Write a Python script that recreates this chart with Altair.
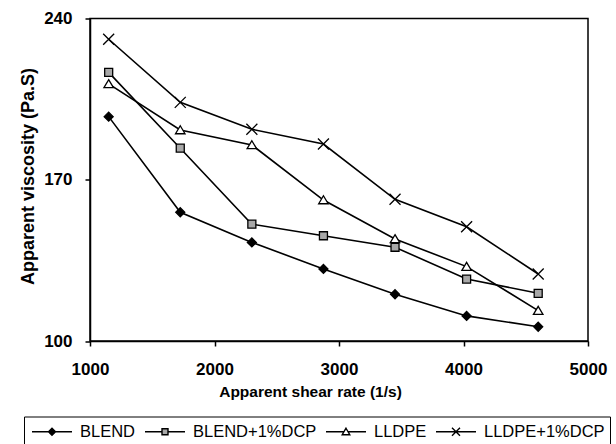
import altair as alt
import pandas as pd

# Apparent shear rate (1/s) at which viscosity was measured
shear_rate = [1150, 1725, 2300, 2875, 3450, 4025, 4600]

# Apparent viscosity (Pa.S) for each material
blend = [197.4, 155.9, 142.8, 131.3, 120.3, 110.9, 106.2]
blend_dcp = [216.6, 183.7, 150.7, 145.7, 140.7, 126.9, 120.7]
lldpe = [211.6, 191.6, 185.1, 161.2, 144.3, 132.3, 113.2]
lldpe_dcp = [231.0, 203.6, 191.9, 185.5, 161.5, 149.6, 129.1]

series_names = ["BLEND", "BLEND+1%DCP", "LLDPE", "LLDPE+1%DCP"]
series_values = [blend, blend_dcp, lldpe, lldpe_dcp]

x_ticks = [1000, 2000, 3000, 4000, 5000]
y_ticks = [100, 170, 240]

rows = []
for name, vals in zip(series_names, series_values):
    for xv, yv in zip(shear_rate, vals):
        rows.append({"series": name, "rate": xv, "visc": yv})
df = pd.DataFrame(rows)

FONT = "Liberation Sans"

# marker outlines drawn on the curves (unit box [-1, 1] -> 10 px)
marker_paths = [
    "M0,-0.9L0.9,0L0,0.9L-0.9,0Z",
    "M-0.8,-0.8H0.8V0.8H-0.8Z",
    "M0,-0.85L0.95,0.75L-0.95,0.75Z",
    "M-1.1,-1.1L1.1,1.1M-1.1,1.1L1.1,-1.1",
]
# legend keys: a 40 px line segment with the marker in the middle (unit -> 9 px)
legend_paths = [
    "M-2.222,0H-0.389M0.389,0H2.222M0,-0.389L0.389,0L0,0.389L-0.389,0Z",
    "M-2.222,0H-0.333M0.333,0H2.222M-0.333,-0.333H0.333V0.333H-0.333Z",
    "M-2.222,0H-0.23M0.23,0H2.222M0,-0.39L0.42,0.33L-0.42,0.33Z",
    "M-2.222,0H2.222M-0.444,-0.444L0.444,0.444M-0.444,0.444L0.444,-0.444",
]
fills = ["black", "#a8a8a8", "white", "white"]
strokes = ["black", "black", "black", "black"]

x_enc = alt.X(
    "rate:Q",
    scale=alt.Scale(domain=[1000, 5000], nice=False),
    axis=alt.Axis(
        values=x_ticks,
        format="d",
        labelFlush=False,
        title="Apparent shear rate  (1/s)",
        titleX=220,
        titleY=50,
        titleAlign="center",
        titleBaseline="middle",
        titleFontSize=15.5,
        labelPadding=15,
    ),
)
y_enc = alt.Y(
    "visc:Q",
    scale=alt.Scale(domain=[100, 240], nice=False, zero=False),
    axis=alt.Axis(
        values=y_ticks,
        labelFlush=False,
        title="Apparent  viscosity (Pa.S)",
        titleX=-62,
        titleY=157.5,
        titleAngle=270,
        titleAlign="center",
        titleBaseline="middle",
        titleFontSize=18,
        labelPadding=13,
    ),
)

lines = alt.Chart(df).mark_line(color="black", strokeWidth=1.6).encode(
    x=x_enc,
    y=y_enc,
    detail="series:N",
)

points = alt.Chart(df).mark_point(
    stroke="black", strokeWidth=1.3, size=100, opacity=1
).encode(
    x=x_enc,
    y=y_enc,
    shape=alt.Shape(
        "series:N",
        scale=alt.Scale(domain=series_names, range=marker_paths),
        legend=None,
    ),
    fill=alt.Fill(
        "series:N",
        scale=alt.Scale(domain=series_names, range=fills),
        legend=None,
    ),
)

legend_cfg = dict(
    orient="none",
    legendX=-66,
    legendY=398,
    direction="horizontal",
    title=None,
    strokeColor="black",
    fillColor="white",
    padding=5,
    columnPadding=6,
    labelFont=FONT,
    labelFontSize=16.5,
    labelColor="black",
    labelOffset=18,
    symbolOffset=13,
    symbolSize=324,
    symbolStrokeColor="black",
    symbolStrokeWidth=1.4,
    symbolOpacity=1,
)

# legend-only layer: no rows survive the filter, the explicit scale domain
# still yields all four legend entries
keys = (
    alt.Chart(df)
    .transform_filter("false")
    .mark_point(strokeWidth=1.4, size=324, opacity=1)
    .encode(
        x=x_enc,
        y=y_enc,
        shape=alt.Shape(
            "series:N",
            scale=alt.Scale(domain=series_names, range=legend_paths),
            legend=alt.Legend(**legend_cfg),
        ),
        fill=alt.Fill(
            "series:N",
            scale=alt.Scale(domain=series_names, range=fills),
            legend=alt.Legend(**legend_cfg),
        ),
        stroke=alt.Stroke(
            "series:N",
            scale=alt.Scale(domain=series_names, range=strokes),
            legend=alt.Legend(**legend_cfg),
        ),
    )
)

chart = (
    alt.layer(lines, points, keys)
    .resolve_scale(shape="independent", fill="independent", stroke="independent")
    .properties(
        width=498,
        height=322.5,
        autosize=alt.AutoSizeParams(type="none"),
        padding={"left": 90, "top": 18.5, "right": 28, "bottom": 103},
        background="white",
    )
    .configure_view(stroke="black", strokeWidth=1.5)
    .configure_axis(
        grid=False,
        domainColor="black",
        domainWidth=1.5,
        tickColor="black",
        tickWidth=1.5,
        tickSize=5,
        labelFont=FONT,
        labelFontWeight="bold",
        labelFontSize=17,
        labelColor="black",
        titleFont=FONT,
        titleFontWeight="bold",
        titleColor="black",
    )
)

chart.save("out.html", embed_options={"renderer": "svg", "actions": False})
